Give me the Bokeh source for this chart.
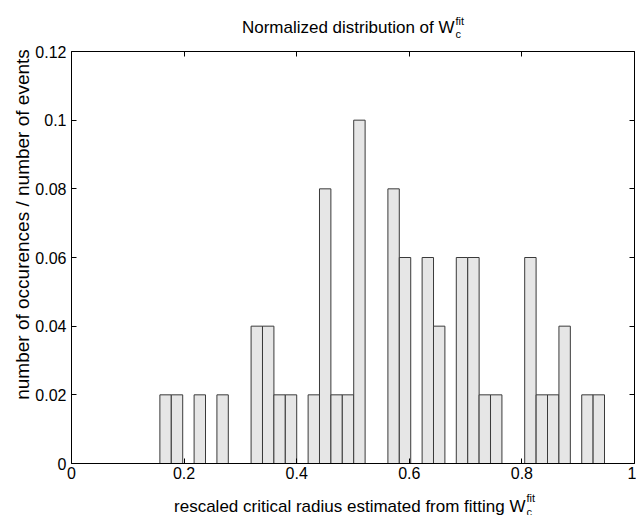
import math
from bokeh.plotting import figure
from bokeh.models import Range1d, FixedTicker, LinearAxis, ColumnDataSource
from bokeh.core.properties import value
from bokeh.embed import file_html
from bokeh.resources import INLINE

# ---- data ----
bin_centers = [0.1671, 0.1874, 0.2279, 0.2684, 0.3291, 0.3494, 0.3696, 0.3899,
               0.4304, 0.4506, 0.4709, 0.4911, 0.5114, 0.5721, 0.5924, 0.6329,
               0.6531, 0.6936, 0.7139, 0.7341, 0.7544, 0.8151, 0.8354, 0.8556,
               0.8759, 0.9164, 0.9366]
fractions = [0.02, 0.02, 0.02, 0.02, 0.04, 0.04, 0.02, 0.02,
             0.02, 0.08, 0.02, 0.02, 0.10, 0.08, 0.06, 0.06,
             0.04, 0.06, 0.06, 0.02, 0.02, 0.06, 0.02, 0.02,
             0.04, 0.02, 0.02]
bin_width = 0.02025

x_ticks = [0, 0.2, 0.4, 0.6, 0.8, 1.0]
x_tick_labels = ["0", "0.2", "0.4", "0.6", "0.8", "1"]
y_ticks = [0, 0.02, 0.04, 0.06, 0.08, 0.10, 0.12]
y_tick_labels = ["0", "0.02", "0.04", "0.06", "0.08", "0.1", "0.12"]
x_limits = (0, 1)
y_limits = (0, 0.12)

title_main = "Normalized distribution of W"
xlabel_main = "rescaled critical radius estimated from fitting W"
ylabel_text = "number of occurences / number of events"
sup_text = "fit"
sub_text = "c"

FONT = "Liberation Sans"

# ---- layout: the plotting frame covers the whole canvas; the axes box is
#      placed at page px x 71..634, y 51..463 via the ranges ----
W, H = 636, 515
BOX_L, BOX_R, BOX_T, BOX_B = 71, 634, 51, 463
kx = (BOX_R - BOX_L) / (x_limits[1] - x_limits[0])
ky = (BOX_B - BOX_T) / (y_limits[1] - y_limits[0])


def dx(px):
    return x_limits[0] + (px - BOX_L) / kx


def dy(py):
    return y_limits[0] + (BOX_B - py) / ky


p = figure(width=W, height=H, output_backend="svg", toolbar_location=None,
           x_range=Range1d(dx(0), dx(W)), y_range=Range1d(dy(H), dy(0)),
           min_border_left=0, min_border_right=0, min_border_top=0, min_border_bottom=0,
           x_axis_location=None, y_axis_location=None, title_location=None)
p.background_fill_color = "white"
p.border_fill_color = "white"
p.outline_line_color = None
p.xgrid.visible = False
p.ygrid.visible = False

src = ColumnDataSource(dict(x=bin_centers, top=fractions))
p.vbar(x="x", top="top", width=bin_width, bottom=0, source=src,
       fill_color="#e6e6e6", line_color="#3a3a3a", line_width=1)


def make_axis(ticks, labels, loc, bounds, show_labels):
    ax = LinearAxis(ticker=FixedTicker(ticks=ticks), fixed_location=loc, bounds=bounds)
    ax.major_label_overrides = {t: l for t, l in zip(ticks, labels)}
    ax.major_tick_in = 5
    ax.major_tick_out = 0
    ax.minor_tick_line_color = None
    ax.axis_line_color = "black"
    ax.axis_line_width = 1
    ax.major_tick_line_color = "black"
    ax.major_label_text_font = FONT
    if show_labels:
        ax.major_label_text_color = "black"
        ax.major_label_text_font_size = "16px"
        ax.major_label_standoff = 5
    else:
        ax.major_label_text_color = None
        ax.major_label_text_font_size = "0px"
        ax.major_label_standoff = 0
    return ax


bottom_ax = make_axis(x_ticks, x_tick_labels, y_limits[0], x_limits, True)
bottom_ax.major_label_standoff = 3
left_ax = make_axis(y_ticks, y_tick_labels, x_limits[0], y_limits, True)
top_ax = make_axis(x_ticks, x_tick_labels, y_limits[1], x_limits, False)
right_ax = make_axis(y_ticks, y_tick_labels, x_limits[1], y_limits, False)
p.add_layout(bottom_ax, "below")
p.add_layout(left_ax, "left")
p.add_layout(top_ax, "above")
p.add_layout(right_ax, "right")


def txt(px, py, text, size, align="left", baseline="alphabetic", angle=0.0):
    p.text(x=[dx(px)], y=[dy(py)], text=[text], angle=angle,
           text_font=value(FONT), text_font_size=value(size),
           text_color="black", text_align=align, text_baseline=baseline)


# title
txt(454, 27, title_main, "17px", align="right")
txt(455, 20, sup_text, "11px")
txt(455, 33, sub_text, "11px")

# x label
txt(525, 506, xlabel_main, "17px", align="right")
txt(526, 497, sup_text, "11px")
txt(526, 511, sub_text, "11px")

# y label
txt(22, 224, ylabel_text, "19px", align="center", baseline="middle", angle=math.pi / 2)

open("out.html", "w").write(file_html(p, INLINE))
